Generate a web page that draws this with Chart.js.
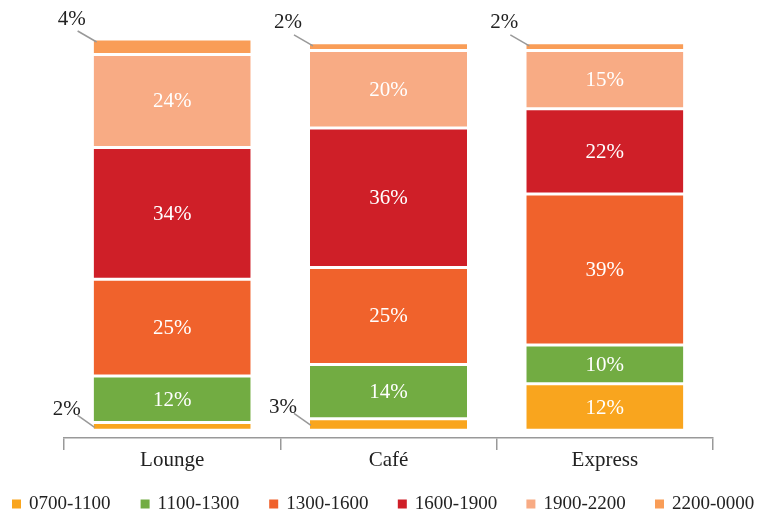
<!DOCTYPE html>
<html>
<head>
<meta charset="utf-8">
<script src="https://cdn.jsdelivr.net/npm/chart.js@4.4.0/dist/chart.umd.min.js"></script>
<style>
  html, body { margin: 0; padding: 0; background: #fff; }
  #wrap { width: 765px; height: 513px; }
</style>
</head>
<body>
<div id="wrap"><canvas id="chart" width="765" height="513"></canvas></div>
<script>
const outlets = ['Lounge', 'Café', 'Express'];
const slots = ['0700-1100', '1100-1300', '1300-1600', '1600-1900', '1900-2200', '2200-0000'];
const slotColors = ['#F9A51E', '#72AC42', '#F0622C', '#CF1F28', '#F8AB84', '#F99D57'];

// share of sales per slot, % (Lounge, Café, Express)
const v0700 = [2, 3, 12];
const v1100 = [12, 14, 10];
const v1300 = [25, 25, 39];
const v1600 = [34, 36, 22];
const v1900 = [24, 20, 15];
const v2200 = [4, 2, 2];
const seriesValues = [v0700, v1100, v1300, v1600, v1900, v2200];

const SERIF = '"Liberation Serif", "DejaVu Serif", serif';

// labels inside bars, small ones outside with a leader line
const segLabels = {
  id: 'segLabels',
  afterDatasetsDraw(chart) {
    const ctx = chart.ctx;
    const last = chart.data.datasets.length - 1;
    ctx.save();
    ctx.font = '21px ' + SERIF;
    ctx.textBaseline = 'middle';
    chart.data.datasets.forEach((ds, di) => {
      chart.getDatasetMeta(di).data.forEach((bar, i) => {
        const val = ds.data[i];
        const top = Math.min(bar.y, bar.base);
        const bot = Math.max(bar.y, bar.base);
        const mid = (top + bot) / 2;
        const left = bar.x - bar.width / 2;
        if (val >= 5) {
          ctx.fillStyle = '#fff';
          ctx.textAlign = 'center';
          ctx.fillText(val + '%', bar.x, mid + 1);
          return;
        }
        ctx.strokeStyle = '#999';
        ctx.lineWidth = 1.5;
        ctx.fillStyle = '#222';
        ctx.textAlign = 'right';
        ctx.beginPath();
        if (di === last) {
          ctx.moveTo(left - 16, top - 8);
          ctx.lineTo(left + 3, top + 3);
          ctx.stroke();
          ctx.fillText(val + '%', left - 8, top - 20);
        } else {
          ctx.moveTo(left - 16, mid - 11);
          ctx.lineTo(left + 1, mid + 1);
          ctx.stroke();
          ctx.fillText(val + '%', left - 13, mid - 17);
        }
      });
    });
    ctx.restore();
  }
};

// legend row along the bottom edge
const bottomLegend = {
  id: 'bottomLegend',
  afterDraw(chart) {
    const ctx = chart.ctx;
    const y = 504;
    const x0 = 12, step = 128.6;
    ctx.save();
    ctx.font = '19px ' + SERIF;
    ctx.textBaseline = 'middle';
    ctx.textAlign = 'left';
    chart.data.datasets.forEach((ds, k) => {
      const x = x0 + k * step;
      ctx.fillStyle = ds.backgroundColor;
      ctx.fillRect(x, y - 4.5, 9, 9);
      ctx.fillStyle = '#222';
      ctx.fillText(ds.label, x + 17, y);
    });
    ctx.restore();
  }
};

new Chart(document.getElementById('chart'), {
  type: 'bar',
  data: {
    labels: outlets,
    datasets: slots.map((s, k) => ({
      label: s,
      data: seriesValues[k],
      backgroundColor: slotColors[k],
      borderColor: '#fff',
      borderWidth: { top: 1.5, bottom: 1.5, left: 0, right: 0 },
      borderSkipped: false,
      categoryPercentage: 1,
      barPercentage: 0.726
    }))
  },
  options: {
    responsive: false,
    animation: false,
    layout: { padding: { left: 64, right: 52, top: 39, bottom: 42 } },
    plugins: {
      tooltip: { enabled: false },
      legend: { display: false }
    },
    scales: {
      x: {
        stacked: true,
        grid: {
          offset: true,
          drawOnChartArea: false,
          drawTicks: true,
          tickLength: 12,
          color: '#999',
          lineWidth: 1.5
        },
        border: { color: '#999', width: 1.5 },
        ticks: { color: '#222', font: { family: SERIF, size: 21, lineHeight: 1 }, padding: 0 }
      },
      y: {
        stacked: true,
        display: false,
        min: -2,
        max: 101
      }
    }
  },
  plugins: [segLabels, bottomLegend]
});
</script>
</body>
</html>
